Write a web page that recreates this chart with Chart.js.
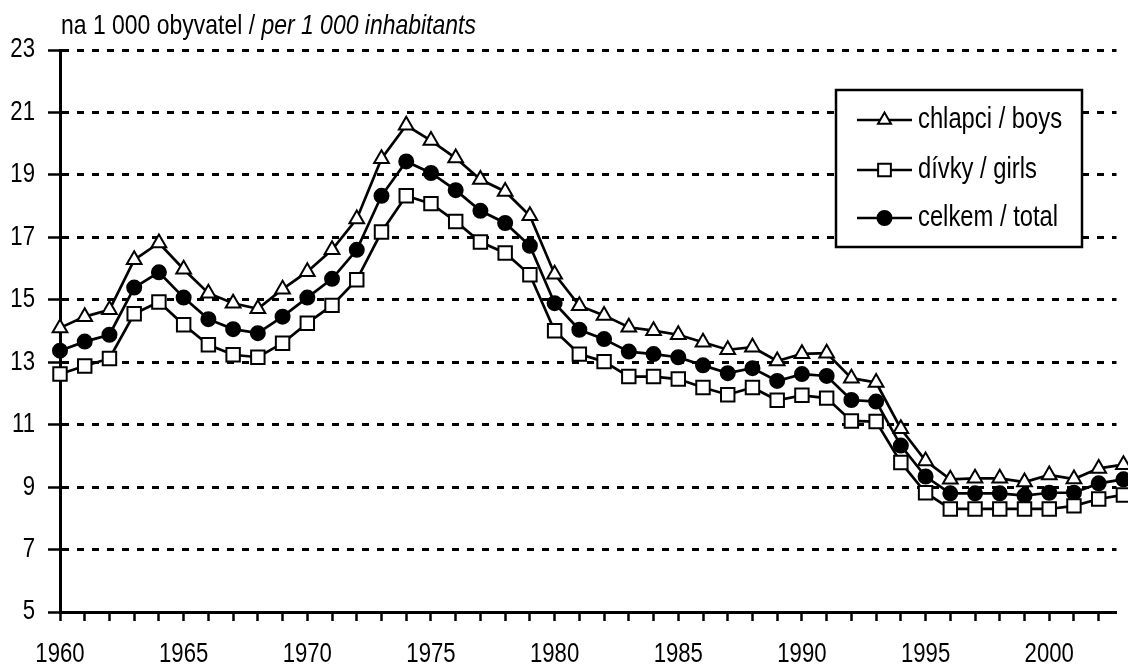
<!DOCTYPE html>
<html>
<head>
<meta charset="utf-8">
<script src="https://cdn.jsdelivr.net/npm/chart.js@4/dist/chart.umd.min.js"></script>
<style>
  html, body { margin: 0; padding: 0; background: #fff; }
  #wrap { width: 1128px; height: 669px; position: relative; }
</style>
</head>
<body>
<div id="wrap"><canvas id="c" width="1128" height="669"></canvas></div>
<script>
const years = [1960,1961,1962,1963,1964,1965,1966,1967,1968,1969,1970,1971,1972,1973,1974,1975,1976,1977,1978,1979,1980,1981,1982,1983,1984,1985,1986,1987,1988,1989,1990,1991,1992,1993,1994,1995,1996,1997,1998,1999,2000,2001,2002,2003];
const boys = [14.1,14.46,14.68,16.28,16.82,15.98,15.21,14.89,14.71,15.34,15.9,16.6,17.59,19.52,20.59,20.1,19.54,18.85,18.47,17.69,15.82,14.81,14.5,14.12,14.01,13.88,13.64,13.4,13.48,13.04,13.27,13.29,12.49,12.35,10.87,9.84,9.25,9.28,9.28,9.16,9.39,9.26,9.6,9.72];
const girls = [12.62,12.88,13.12,14.55,14.93,14.2,13.56,13.24,13.16,13.61,14.25,14.82,15.64,17.17,18.33,18.08,17.51,16.85,16.5,15.8,14.01,13.26,13.02,12.54,12.54,12.46,12.19,11.96,12.19,11.78,11.94,11.85,11.12,11.1,9.79,8.82,8.3,8.3,8.3,8.3,8.3,8.4,8.62,8.75];
const total = [13.37,13.66,13.88,15.39,15.88,15.07,14.38,14.06,13.93,14.46,15.07,15.67,16.6,18.33,19.43,19.06,18.51,17.85,17.46,16.73,14.89,14.04,13.74,13.34,13.26,13.16,12.9,12.65,12.81,12.4,12.62,12.56,11.79,11.74,10.33,9.34,8.8,8.8,8.8,8.73,8.82,8.82,9.12,9.25];
const seriesLabels = ['chlapci / boys', 'dívky / girls', 'celkem / total'];
const titleNormal = 'na 1 000 obyvatel / ';
const titleItalic = 'per 1 000 inhabitants';
const yMin = 5, yMax = 23, yStep = 2;
const xMin = 1960, xMax = 2002.72;

// Arial-metric font, drawn horizontally condensed (Arial Narrow look)
const FONT = "'Liberation Sans', Arial, sans-serif";
const NARROW = 0.82;

const canvas = document.getElementById('c');
const ctx0 = canvas.getContext('2d');
const protoFill = CanvasRenderingContext2D.prototype.fillText;
ctx0.fillText = function (text, x, y, maxWidth) {
  if (this.font.indexOf('Liberation Sans') !== -1) {
    this.save();
    this.translate(x, y);
    this.scale(NARROW, 1);
    protoFill.call(this, text, 0, 0);
    this.restore();
  } else {
    protoFill.call(this, text, x, y, maxWidth);
  }
};

function pts(arr) { return years.map((y, i) => ({ x: y, y: arr[i] })); }

const common = {
  borderColor: '#000',
  borderWidth: 2.7,
  pointBorderColor: '#000',
  pointBorderWidth: 2,
  tension: 0,
  clip: false,
  showLine: true
};

const datasets = [
  Object.assign({}, common, { label: seriesLabels[0], data: pts(boys), pointStyle: 'triangle', pointRadius: 8.5, pointBackgroundColor: '#fff' }),
  Object.assign({}, common, { label: seriesLabels[1], data: pts(girls), pointStyle: 'rect', pointRadius: 9.5, pointBackgroundColor: '#fff' }),
  Object.assign({}, common, { label: seriesLabels[2], data: pts(total), pointStyle: 'circle', pointRadius: 7, pointBackgroundColor: '#000' })
];

function drawMarker(ctx, style, x, y, r, fill) {
  ctx.save();
  ctx.beginPath();
  if (style === 'triangle') {
    ctx.moveTo(x, y - r);
    ctx.lineTo(x + r * Math.sin(2 * Math.PI / 3), y - r * Math.cos(2 * Math.PI / 3));
    ctx.lineTo(x + r * Math.sin(4 * Math.PI / 3), y - r * Math.cos(4 * Math.PI / 3));
    ctx.closePath();
  } else if (style === 'rect') {
    const s = r * Math.SQRT1_2;
    ctx.rect(x - s, y - s, 2 * s, 2 * s);
  } else {
    ctx.arc(x, y, r, 0, Math.PI * 2);
  }
  ctx.fillStyle = fill;
  ctx.fill();
  ctx.lineWidth = 2;
  ctx.strokeStyle = '#000';
  ctx.stroke();
  ctx.restore();
}

const decor = {
  id: 'decor',
  afterDraw(chart) {
    const ctx = chart.ctx;
    ctx.save();
    // title
    ctx.fillStyle = '#000';
    ctx.textBaseline = 'alphabetic';
    ctx.textAlign = 'left';
    ctx.font = "28px " + FONT;
    const tx = 61, ty = 34;
    ctx.fillText(titleNormal, tx, ty);
    const w = ctx.measureText(titleNormal).width * NARROW;
    ctx.font = "italic 28px " + FONT;
    ctx.fillText(titleItalic, tx + w, ty);
    // legend
    const bx = 836, by = 90, bw = 246, bh = 157;
    ctx.fillStyle = '#fff';
    ctx.fillRect(bx, by, bw, bh);
    ctx.lineWidth = 2.5;
    ctx.strokeStyle = '#000';
    ctx.strokeRect(bx, by, bw, bh);
    const rows = [120, 170, 218];
    chart.data.datasets.forEach((ds, i) => {
      const yy = rows[i];
      ctx.beginPath();
      ctx.moveTo(857, yy);
      ctx.lineTo(912, yy);
      ctx.lineWidth = 2.5;
      ctx.strokeStyle = '#000';
      ctx.stroke();
      drawMarker(ctx, ds.pointStyle, 884.5, yy, ds.pointStyle === 'rect' ? 9 : (ds.pointStyle === 'triangle' ? 7.5 : 7), ds.pointBackgroundColor);
      ctx.fillStyle = '#000';
      ctx.font = "29px " + FONT;
      ctx.textBaseline = 'middle';
      ctx.fillText(ds.label, 918, yy);
    });
    ctx.restore();
  }
};

new Chart(canvas, {
  type: 'scatter',
  data: { datasets },
  options: {
    responsive: false,
    animation: false,
    events: [],
    layout: { padding: { top: 50, left: 0, right: 0, bottom: 0 } },
    plugins: { legend: { display: false }, tooltip: { enabled: false }, title: { display: false } },
    scales: {
      x: {
        type: 'linear',
        min: xMin,
        max: xMax,
        afterFit(s) { s.height = 57; },
        ticks: {
          stepSize: 1,
          autoSkip: false,
          includeBounds: false,
          maxRotation: 0,
          minRotation: 0,
          padding: 17,
          color: '#000',
          font: { family: FONT, size: 27 },
          callback: (v) => (Math.round(v) % 5 === 0 ? String(Math.round(v)) : '')
        },
        grid: {
          drawOnChartArea: false,
          drawTicks: true,
          tickLength: 9,
          tickWidth: 2.5,
          tickColor: '#000',
          color: '#000'
        },
        border: { display: true, color: '#000', width: 3 }
      },
      y: {
        min: yMin,
        max: yMax,
        afterFit(s) { s.width = 60; },
        ticks: {
          stepSize: yStep,
          padding: 13,
          color: '#000',
          font: { family: FONT, size: 27 }
        },
        grid: {
          drawOnChartArea: true,
          drawTicks: true,
          tickLength: 12,
          tickWidth: 2.5,
          tickColor: '#000',
          tickBorderDash: [],
          color: '#000',
          lineWidth: 3
        },
        border: { display: true, color: '#000', width: 3, dash: [7, 8] }
      }
    }
  },
  plugins: [decor]
});
</script>
</body>
</html>
